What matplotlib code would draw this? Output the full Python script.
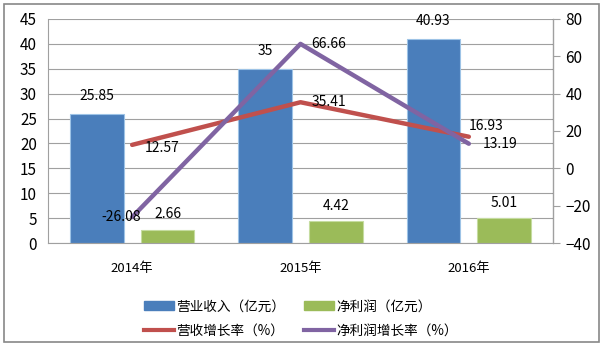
import matplotlib
matplotlib.use("Agg")
import matplotlib.pyplot as plt
import numpy as np
from matplotlib.patches import Rectangle, Patch
from matplotlib.lines import Line2D

plt.rcParams['font.family'] = ['Noto Sans CJK SC', 'DejaVu Sans']

years = ['2014年', '2015年', '2016年']
revenue = [25.85, 35, 40.93]
profit = [2.66, 4.42, 5.01]
rev_growth = [12.57, 35.41, 16.93]
profit_growth = [-26.08, 66.66, 13.19]

labels = ['营业收入（亿元）', '净利润（亿元）', '营收增长率（%）', '净利润增长率（%）']
c_blue, c_green, c_red, c_purple = '#4A7EBB', '#9BBB59', '#C0504D', '#8064A2'

fig = plt.figure(figsize=(6.04, 3.54), dpi=100)
fig.patches.append(Rectangle((0.007, 0.035), 0.985, 0.955, transform=fig.transFigure,
                             fill=False, edgecolor='#888888', linewidth=1.2))
ax = fig.add_axes([48/604, 1-243/354, (553-48)/604, (243-19)/354])
ax2 = ax.twinx()

x = np.arange(len(years))
w = 0.32
off = 0.21
ax.bar(x - off, revenue, w, color=c_blue, edgecolor='#9DC3E6', linewidth=0.8, zorder=2)
ax.bar(x + off, profit, w, color=c_green, edgecolor='#C5DCA0', linewidth=0.8, zorder=2)
ax.set_ylim(0, 45)
ax.set_yticks(np.arange(0, 46, 5))
ax.set_xlim(-0.5, 2.5)
ax.set_xticks(x)
ax.set_xticklabels(years)
ax.yaxis.grid(True, color='#A0A0A0', linewidth=0.8, zorder=0)
ax.set_axisbelow(True)
ax.spines['top'].set_visible(False)
ax.spines['left'].set_color('#A0A0A0')
ax.spines['bottom'].set_color('#A0A0A0')
ax.tick_params(axis='y', length=0, labelsize=11, pad=8)
ax.tick_params(axis='x', length=0, labelsize=9.5, pad=14)

for xi, v in zip(x, revenue):
    ax.annotate(f'{v:g}', (xi - off, v), xytext=(0, 8), textcoords='offset points',
                ha='center', va='bottom', fontsize=10)
for xi, v in zip(x, profit):
    ax.annotate(f'{v:g}', (xi + off, v), xytext=(0, 6), textcoords='offset points',
                ha='center', va='bottom', fontsize=10)

ax2.plot(x, rev_growth, color=c_red, linewidth=3.2, zorder=3, solid_capstyle='round')
ax2.plot(x, profit_growth, color=c_purple, linewidth=3.2, zorder=3, solid_capstyle='round')
ax2.set_ylim(-40, 80)
ax2.set_yticks(np.arange(-40, 81, 20))
ax2.tick_params(axis='y', length=5, color='#A0A0A0', labelsize=11, pad=4)
for s in ['top', 'left', 'bottom']:
    ax2.spines[s].set_visible(False)
ax2.spines['right'].set_color('#A0A0A0')

rg_off = [(9, -2, 'left', 'center'), (8, 0, 'left', 'center'), (0, 8, 'left', 'center')]
pg_off = [(-8, 0, 'center', 'center'), (8, 0, 'left', 'center'), (10, 0, 'left', 'center')]
for xi, v, (dx, dy, ha, va) in zip(x, rev_growth, rg_off):
    ax2.annotate(f'{v:g}', (xi, v), xytext=(dx, dy), textcoords='offset points',
                 ha=ha, va=va, fontsize=10)
for xi, v, (dx, dy, ha, va) in zip(x, profit_growth, pg_off):
    ax2.annotate(f'{v:g}', (xi, v), xytext=(dx, dy), textcoords='offset points',
                 ha=ha, va=va, fontsize=10)

handles = [Patch(color=c_blue), Line2D([], [], color=c_red, linewidth=3),
           Patch(color=c_green), Line2D([], [], color=c_purple, linewidth=3)]
order_labels = [labels[0], labels[2], labels[1], labels[3]]
fig.legend(handles, order_labels, ncol=2, loc='center', bbox_to_anchor=(0.498, 0.10),
           frameon=False, fontsize=9.8, handlelength=2.2, handleheight=0.6,
           columnspacing=1.4, handletextpad=0.15, labelspacing=0.75)

fig.savefig('out.png', dpi=100)
